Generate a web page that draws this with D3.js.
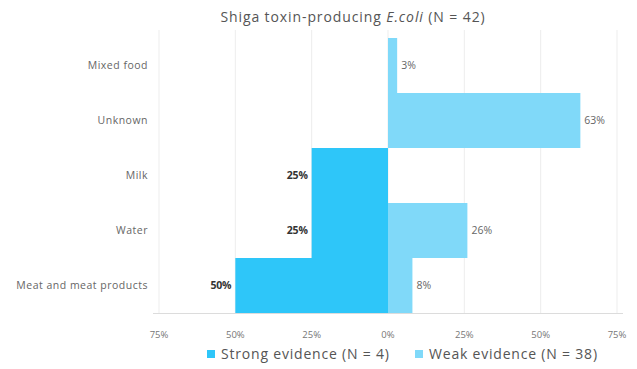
<!DOCTYPE html>
<html><head><meta charset="utf-8">
<script src="https://cdn.jsdelivr.net/npm/d3@7"></script>
<style>body{margin:0;background:#fff;} text{font-family:"Open Sans", sans-serif;}</style>
</head><body><svg id="c" width="637" height="369"></svg>
<script>
const categories = ["Mixed food","Unknown","Milk","Water","Meat and meat products"];
const strongValues = [0, 0, 25, 25, 50];
const weakValues = [3, 63, 0, 26, 8];
const tickValues = [-75,-50,-25,0,25,50,75];
const seriesNames = ["Strong evidence (N = 4)","Weak evidence (N = 38)"];
const colors = ["#2ec6f9","#80d9f9"];

const svg = d3.select("#c");
const x = d3.scaleLinear().domain([-75,75]).range([159,617]);
const y = d3.scaleBand().domain(categories).range([38,313]).padding(0);

svg.append("g").selectAll("line").data(tickValues).join("line")
  .attr("x1",d=>x(d)).attr("x2",d=>x(d)).attr("y1",30).attr("y2",313)
  .attr("stroke","#ededed").attr("stroke-width",1);

const strongData = categories.map((c,i)=>({c,v:strongValues[i]})).filter(d=>d.v>0);
const weakData = categories.map((c,i)=>({c,v:weakValues[i]})).filter(d=>d.v>0);

svg.append("g").selectAll("rect").data(strongData).join("rect")
  .attr("x",d=>x(-d.v)).attr("width",d=>x(0)-x(-d.v)).attr("y",d=>y(d.c)).attr("height",y.bandwidth())
  .attr("fill",colors[0]);
svg.append("g").selectAll("rect").data(weakData).join("rect")
  .attr("x",x(0)).attr("width",d=>x(d.v)-x(0)).attr("y",d=>y(d.c)).attr("height",y.bandwidth())
  .attr("fill",colors[1]);

svg.append("line").attr("x1",x(-75)-6).attr("x2",x(75)+6).attr("y1",313.5).attr("y2",313.5).attr("stroke","#dcdcdc");

svg.append("g").selectAll("text").data(strongData).join("text")
  .attr("x",d=>x(-d.v)-4).attr("y",d=>y(d.c)+y.bandwidth()/2).attr("dy","0.35em")
  .attr("text-anchor","end").attr("font-size",10.5).attr("font-weight","bold").attr("fill","#333")
  .attr("letter-spacing",-0.2).text(d=>d.v+"%");
svg.append("g").selectAll("text").data(weakData).join("text")
  .attr("x",d=>x(d.v)+4).attr("y",d=>y(d.c)+y.bandwidth()/2).attr("dy","0.35em")
  .attr("text-anchor","start").attr("font-size",10.5).attr("fill","#666")
  .text(d=>d.v+"%");

svg.append("g").selectAll("text").data(categories).join("text")
  .attr("x",148).attr("y",d=>y(d)+y.bandwidth()/2).attr("dy","0.35em")
  .attr("text-anchor","end").attr("font-size",10.5).attr("letter-spacing",0.5).attr("fill","#666").text(d=>d);

svg.append("g").selectAll("text").data(tickValues).join("text")
  .attr("x",d=>x(d)).attr("y",338).attr("text-anchor","middle").attr("font-size",9.5).attr("fill","#777")
  .text(d=>Math.abs(d)+"%");

const t = svg.append("text").attr("x",353).attr("y",22).attr("text-anchor","middle").attr("font-size",14).attr("letter-spacing",0.9).attr("fill","#555");
t.append("tspan").text("Shiga toxin-producing ");
t.append("tspan").attr("font-style","italic").text("E.coli");
t.append("tspan").text(" (N = 42)");

const lg = svg.append("g");
const lx = [207,415];
seriesNames.forEach((n,i)=>{
  lg.append("rect").attr("x",lx[i]).attr("y",350).attr("width",8).attr("height",8).attr("fill",colors[i]);
  lg.append("text").attr("x",lx[i]+14).attr("y",359).attr("font-size",14).attr("letter-spacing",0.8).attr("fill","#555").text(n);
});
</script></body></html>
